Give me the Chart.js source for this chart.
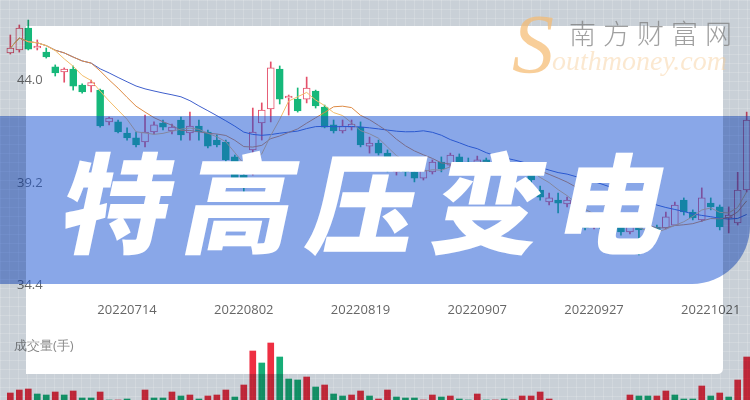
<!DOCTYPE html>
<html><head><meta charset="utf-8">
<script src="https://cdn.jsdelivr.net/npm/chart.js@4/dist/chart.umd.min.js"></script>
<style>
html,body{margin:0;padding:0;width:750px;height:400px;overflow:hidden;background:#fff;}
#wrap{position:relative;width:750px;height:400px;overflow:hidden;background:#fff;}
#pc{position:absolute;left:0;top:0;}
#vc{position:absolute;left:0;top:320px;}
#volLabel{position:absolute;left:14px;top:336px;font:13px 'Open Sans',sans-serif;color:#8a8a8a;}
#banner{position:absolute;left:0;top:116px;width:750px;height:168px;background:rgba(20,80,210,0.5);border-bottom-right-radius:58px;}
#title{position:absolute;left:0;top:143px;width:750px;text-align:center;box-sizing:border-box;font-family:'Noto Sans CJK SC',sans-serif;font-weight:900;font-size:109px;line-height:1;letter-spacing:15px;color:#fff;transform:skewX(-12deg);white-space:nowrap;}
#frame{position:absolute;left:0;top:0;width:750px;height:400px;mix-blend-mode:multiply;background-color:#c9d0d7;
background-image:repeating-linear-gradient(to right,rgba(255,255,255,0.16) 0 1px,transparent 1px 9px),repeating-linear-gradient(to bottom,rgba(255,255,255,0.16) 0 1px,transparent 1px 9px);
clip-path:path(evenodd,"M0 0H750V400H0Z M26 26H723V368Q723 374 717 374H26Z");}
#wmS{position:absolute;left:512px;top:-4px;font:italic 84px 'Liberation Serif',serif;color:rgba(245,185,110,0.7);}
#wmEn{position:absolute;left:552px;top:45px;font:italic 28px 'Liberation Serif',serif;color:rgba(246,205,150,0.45);}
#wmCn{position:absolute;left:569px;top:13px;font:300 27px 'Noto Sans CJK SC',sans-serif;letter-spacing:7px;color:rgba(120,120,120,0.7);}
</style></head>
<body><div id="wrap">
<canvas id="pc" width="750" height="320"></canvas>
<canvas id="vc" width="750" height="140"></canvas>
<div id="volLabel">成交量(手)</div>
<div id="banner"></div>
<div id="title">特高压变电</div>
<div id="frame"></div>
<div id="wmS">S</div>
<div id="wmEn">outhmoney.com</div>
<div id="wmCn">南方财富网</div>
</div>
<script>
const dates = ['20220627','20220628','20220629','20220630','20220701','20220704','20220705','20220706','20220707','20220708',
'20220711','20220712','20220713','20220714','20220715','20220718','20220719','20220720','20220721','20220722',
'20220725','20220726','20220727','20220728','20220729','20220801','20220802','20220803','20220804','20220805',
'20220808','20220809','20220810','20220811','20220812','20220815','20220816','20220817','20220818','20220819',
'20220822','20220823','20220824','20220825','20220826','20220829','20220830','20220831','20220901','20220902',
'20220905','20220906','20220907','20220908','20220909','20220913','20220914','20220915','20220916','20220919',
'20220920','20220921','20220922','20220923','20220926','20220927','20220928','20220929','20220930','20221010',
'20221011','20221012','20221013','20221014','20221017','20221018','20221019','20221020','20221021','20221024',
'20221025','20221026','20221027'];
const xTickDates = ['20220714','20220802','20220819','20220907','20220927','20221021'];
const yTicks = [44.0, 39.2, 34.4];

const open  = [45.29,45.43,46.46,45.52,45.33,44.64,44.40,44.54,43.79,43.75,
43.55,42.06,42.06,41.54,41.31,41.12,41.59,42.01,41.64,42.15,
41.54,41.87,41.59,41.21,41.12,40.42,39.57,40.75,42.01,42.67,
44.54,43.18,43.13,43.13,43.51,42.76,41.92,41.64,41.82,41.82,
40.93,41.07,40.60,39.72,39.95,39.72,39.43,39.72,40.18,40.04,
40.42,40.18,40.00,40.28,39.90,40.04,39.72,39.90,39.95,38.87,
38.31,38.40,38.22,38.17,37.33,37.14,37.42,37.05,37.23,36.91,
37.33,36.16,37.14,37.09,37.23,38.40,37.84,37.47,38.26,38.08,
37.56,37.33,38.87];
const high  = [46.13,46.60,46.83,45.90,45.52,44.73,44.59,44.68,43.84,44.02,
43.60,42.29,42.15,41.78,41.59,42.38,42.06,42.15,41.96,42.29,
42.52,42.15,41.68,41.45,41.21,40.51,39.72,42.71,42.95,44.87,
44.68,43.32,43.65,44.16,43.55,42.85,42.15,42.15,42.15,42.06,
41.35,41.21,40.75,40.04,40.14,39.81,39.90,40.28,40.42,40.60,
40.56,40.37,40.46,40.37,40.18,40.14,40.04,40.09,40.04,39.06,
38.73,38.73,38.54,38.26,37.42,37.61,37.51,37.37,37.37,37.47,
37.47,36.53,37.23,37.84,38.31,38.50,37.94,38.97,38.50,38.17,
38.08,39.70,42.52];
const low   = [45.24,45.33,45.43,45.43,45.05,44.21,43.92,43.55,43.41,43.46,
41.82,41.92,41.54,41.21,40.89,40.89,41.50,41.68,41.50,41.21,
41.21,41.21,40.84,40.89,40.14,39.25,38.78,39.57,41.21,42.06,
42.90,42.38,42.52,42.95,42.71,41.78,41.54,41.54,41.68,40.89,
40.60,40.51,39.72,39.57,39.53,39.25,39.34,39.62,39.72,39.95,
40.04,39.81,39.90,39.81,39.76,39.57,39.53,39.67,39.11,38.40,
38.17,37.80,38.08,37.37,37.00,37.05,36.91,36.95,36.76,36.81,
35.83,36.06,36.90,37.05,37.20,37.70,37.47,37.40,37.94,37.00,
36.86,37.23,38.78];
const close = [45.52,46.46,45.47,45.61,45.10,44.35,44.54,43.74,43.46,43.90,
41.87,42.24,41.59,41.31,40.98,41.59,41.92,41.82,41.82,41.45,
41.87,41.59,40.93,40.98,40.28,39.34,38.97,41.59,42.62,44.59,
43.13,43.27,42.57,43.65,42.81,41.82,41.64,41.87,41.96,40.98,
41.07,40.60,39.81,39.95,39.72,39.43,39.81,40.18,39.86,40.51,
40.18,40.00,40.28,39.90,40.04,39.72,39.90,39.81,39.34,38.54,
38.50,38.26,38.40,37.56,37.09,37.47,37.05,37.28,36.91,37.28,
37.00,36.30,37.00,37.61,38.17,37.84,37.56,38.50,38.08,37.14,
37.70,38.87,42.15];
const volume = [33500,35000,35500,33000,32500,34000,32500,34500,31000,31000,
34000,30000,30000,30500,29800,35000,31000,31000,34000,32000,
32500,30500,32000,32500,35000,31500,37500,54500,48500,58500,
51500,40500,40000,41500,36500,37500,33000,32000,32500,34500,
32000,30500,35000,31500,31000,31000,30000,32500,31500,32000,
30500,30000,33000,30000,30000,30500,30000,32000,32000,34000,
30500,29500,29000,29500,29000,29500,29000,29500,29000,32500,
32000,32000,32000,34500,32500,30500,30500,37000,32000,33500,
31500,40000,51500];
const volDir = [1,1,1,-1,-1,1,-1,1,-1,-1,
1,-1,1,-1,-1,1,-1,-1,1,-1,
1,-1,1,1,1,-1,1,1,-1,1,
-1,-1,-1,1,-1,1,-1,-1,1,1,
-1,1,1,-1,-1,-1,1,1,-1,1,
-1,-1,1,-1,1,-1,1,1,1,1,
1,-1,1,-1,-1,1,-1,1,-1,1,
-1,-1,1,1,-1,-1,-1,1,-1,1,
-1,1,1];

const UP = '#e4506a', DOWN = '#16b87a';
const VUP = '#ee2f42', VDOWN = '#17ad77';

function sma(n){
  return close.map((c,i)=>{
    const s = Math.max(0,i-n+1); let t=0;
    for(let k=s;k<=i;k++) t+=close[k];
    return {x:i, y:t/(i-s+1)};
  });
}
const isUp = close.map((c,i)=>c>=open[i]);
const bodies = close.map((c,i)=>({x:i, y:[open[i], c]}));
const wicks = close.map((c,i)=>({x:i, y:[low[i], high[i]]}));

const X_MIN = -1.15, X_MAX = 82.37;
const tickIdx = xTickDates.map(d=>dates.indexOf(d));

new Chart(document.getElementById('pc'), {
  type:'bar',
  data:{datasets:[
    {type:'line', label:'MA5', data:sma(5), borderColor:'#f3bd6a', borderWidth:1, pointRadius:0, order:0},
    {type:'line', label:'MA10', data:sma(10), borderColor:'#dd8a44', borderWidth:1, pointRadius:0, order:0},
    {type:'line', label:'MA20', data:sma(20), borderColor:'#3f5fcc', borderWidth:1, pointRadius:0, order:0},
    {type:'bar', label:'body', data:bodies, grouped:false, barThickness:7, minBarLength:1,
      backgroundColor:isUp.map(u=>u?'#ffffff':DOWN), borderColor:isUp.map(u=>u?UP:DOWN),
      borderWidth:1, borderSkipped:false, order:1},
    {type:'bar', label:'wick', data:wicks, grouped:false, barThickness:1,
      backgroundColor:isUp.map(u=>u?UP:DOWN), order:2}
  ]},
  options:{
    responsive:false, animation:false, devicePixelRatio:1,
    layout:{padding:0},
    plugins:{legend:{display:false}, tooltip:{enabled:false}},
    scales:{
      x:{type:'linear', offset:false, min:X_MIN, max:X_MAX, grid:{display:false, drawTicks:false}, border:{display:false},
         ticks:{padding:2, color:'#666', font:{family:'Open Sans', size:13}, maxRotation:0, autoSkip:false,
           callback:(v)=>dates[v]},
         afterBuildTicks:(s)=>{ s.ticks = tickIdx.map(v=>({value:v})); },
         afterFit:(s)=>{ s.height = 20; s.paddingLeft=0; s.paddingRight=0; }},
      y:{min:33.72, max:47.77, grid:{display:false, drawTicks:false}, border:{display:false},
         ticks:{mirror:true, padding:17, color:'#6a6a6a', font:{family:'Open Sans', size:13},
           callback:(v)=>v.toFixed(1)},
         afterBuildTicks:(s)=>{ s.ticks = yTicks.map(v=>({value:v})); },
         afterFit:(s)=>{ s.width = 0; s.paddingTop=0; s.paddingBottom=0; }}
    }
  }
});

new Chart(document.getElementById('vc'), {
  type:'bar',
  data:{datasets:[
    {label:'volume', data:volume.map((v,i)=>({x:i,y:v})), barThickness:6,
     backgroundColor:volDir.map(d=>d>0?VUP:VDOWN)}
  ]},
  options:{
    responsive:false, animation:false, devicePixelRatio:1,
    layout:{padding:0},
    plugins:{legend:{display:false}, tooltip:{enabled:false}},
    scales:{
      x:{type:'linear', offset:false, min:X_MIN, max:X_MAX, display:false},
      y:{min:0, max:70000, display:false}
    }
  }
});
</script>
</body></html>
